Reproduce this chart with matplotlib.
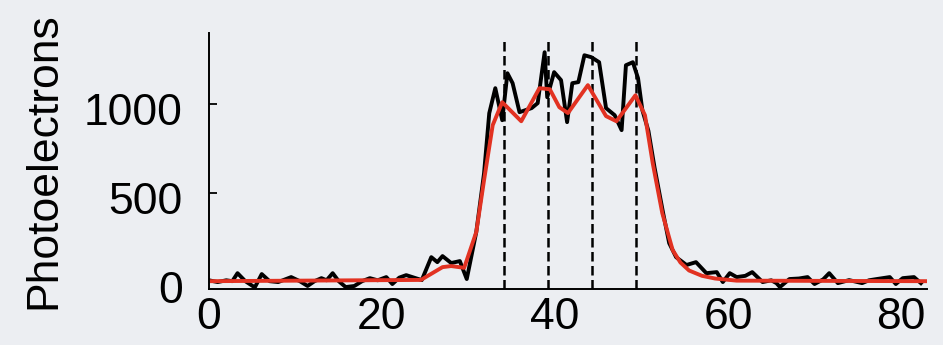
import matplotlib
matplotlib.use("Agg")
import matplotlib.pyplot as plt
from matplotlib.transforms import ScaledTranslation

plt.rcParams['font.family'] = ['Liberation Sans', 'DejaVu Sans']

# measured trace (black)
raw_x = [0, 1.0, 2.0, 2.7, 3.3, 4.2, 5.3, 6.1, 7.0, 8.0, 9.5, 10.5, 11.4, 12.2,
         13.0, 13.6, 14.3, 15.0, 15.8, 16.8, 17.7, 18.6, 19.5, 20.5, 21.2, 22.0,
         22.8, 23.7, 24.6, 25.7, 26.4, 27.0, 28.0, 29.0, 29.8, 30.9, 31.8, 32.4,
         33.1, 33.9, 34.5, 35.1, 35.9, 37.3, 38.0, 38.8, 39.1, 39.9, 40.7, 41.4,
         42.0, 42.7, 43.4, 44.2, 45.1, 45.9, 46.9, 47.7, 48.2, 49.0, 49.6, 50.1,
         50.8, 51.5, 52.5, 53.2, 54.0, 55.2, 56.3, 57.5, 58.7, 59.4, 60.2, 61.0,
         62.0, 62.8, 64.0, 65.0, 65.6, 66.0, 67.1, 68.2, 69.2, 70.0, 71.0, 71.7,
         72.7, 74.0, 75.5, 76.3, 77.2, 78.7, 79.4, 80.2, 81.5, 82.3]
raw_y = [10, 0, 10, 5, 50, 5, -30, 45, 5, 0, 28, 5, -22, 5,
         22, 10, 50, 5, -28, -22, 5, 22, 10, 28, -11, 25,
         39, 25, 11, 140, 112, 146, 107, 118, 17, 281, 612, 949,
         1090, 910, 1174, 1118, 955, 978, 1006, 1292, 1039, 1180, 1135, 899,
         1118, 1124, 1275, 1264, 1236, 978, 938, 854, 1219, 1236, 1146, 966,
         850, 646, 388, 219, 140, 96, 112, 50, 56, 0, 50, 28,
         35, 56, 0, 10, -6, -28, 17, 20, 28, -11, 15, 50,
         -6, 11, -6, 10, 17, 28, -11, 22, 28, -6]

# smoothed trace (red)
fit_x = [0, 24.5, 27.0, 28.0, 29.5, 30.9, 31.8, 32.8, 33.9, 36.1, 38.2, 39.4,
         40.5, 41.5, 43.8, 45.9, 47.1, 49.3, 50.4, 51.3, 52.4, 53.6, 54.5,
         55.5, 57.0, 58.5, 61.0, 83.0]
fit_y = [5, 12, 84, 90, 80, 281, 573, 882, 1011, 904, 1090, 1084,
         983, 950, 1107, 933, 904, 1050, 938, 668, 388, 180, 110,
         65, 35, 20, 8, 5]

# vertical markers
marker_x = [34.05, 39.2, 44.3, 49.4]

bg = '#eceef2'
fig = plt.figure(figsize=(9.43, 3.45), dpi=100, facecolor=bg)
ax = fig.add_axes([0.2216, 0.1623, 0.7614, 0.742])
ax.set_facecolor(bg)

ax.vlines(marker_x, -39, 1360, colors='black', linewidth=1.8,
          linestyles=(0, (3.8, 1.8)))
ax.plot(raw_x, raw_y, color='black', linewidth=2.8)
ax.plot(fit_x, fit_y, color='#e23222', linewidth=2.8)

ax.set_xlim(0, 83)
ax.set_ylim(-39, 1400)
ax.set_xticks([0, 20, 40, 60, 80])
ax.set_yticks([0, 500, 1000])
ax.tick_params(axis='x', length=0, pad=6, labelsize=32)
ax.tick_params(axis='y', direction='in', length=6, width=1.3, pad=19, labelsize=32)
ax.set_ylabel("Photoelectrons", fontsize=32, labelpad=14)

# y tick labels sit a little below their ticks in the original
shift = ScaledTranslation(0, -0.05, fig.dpi_scale_trans)
for lab in ax.get_yticklabels():
    lab.set_transform(lab.get_transform() + shift)

for side in ['top', 'right']:
    ax.spines[side].set_visible(False)
for side in ['left', 'bottom']:
    ax.spines[side].set_linewidth(1.4)

fig.savefig("out.png", dpi=100, facecolor=bg)
